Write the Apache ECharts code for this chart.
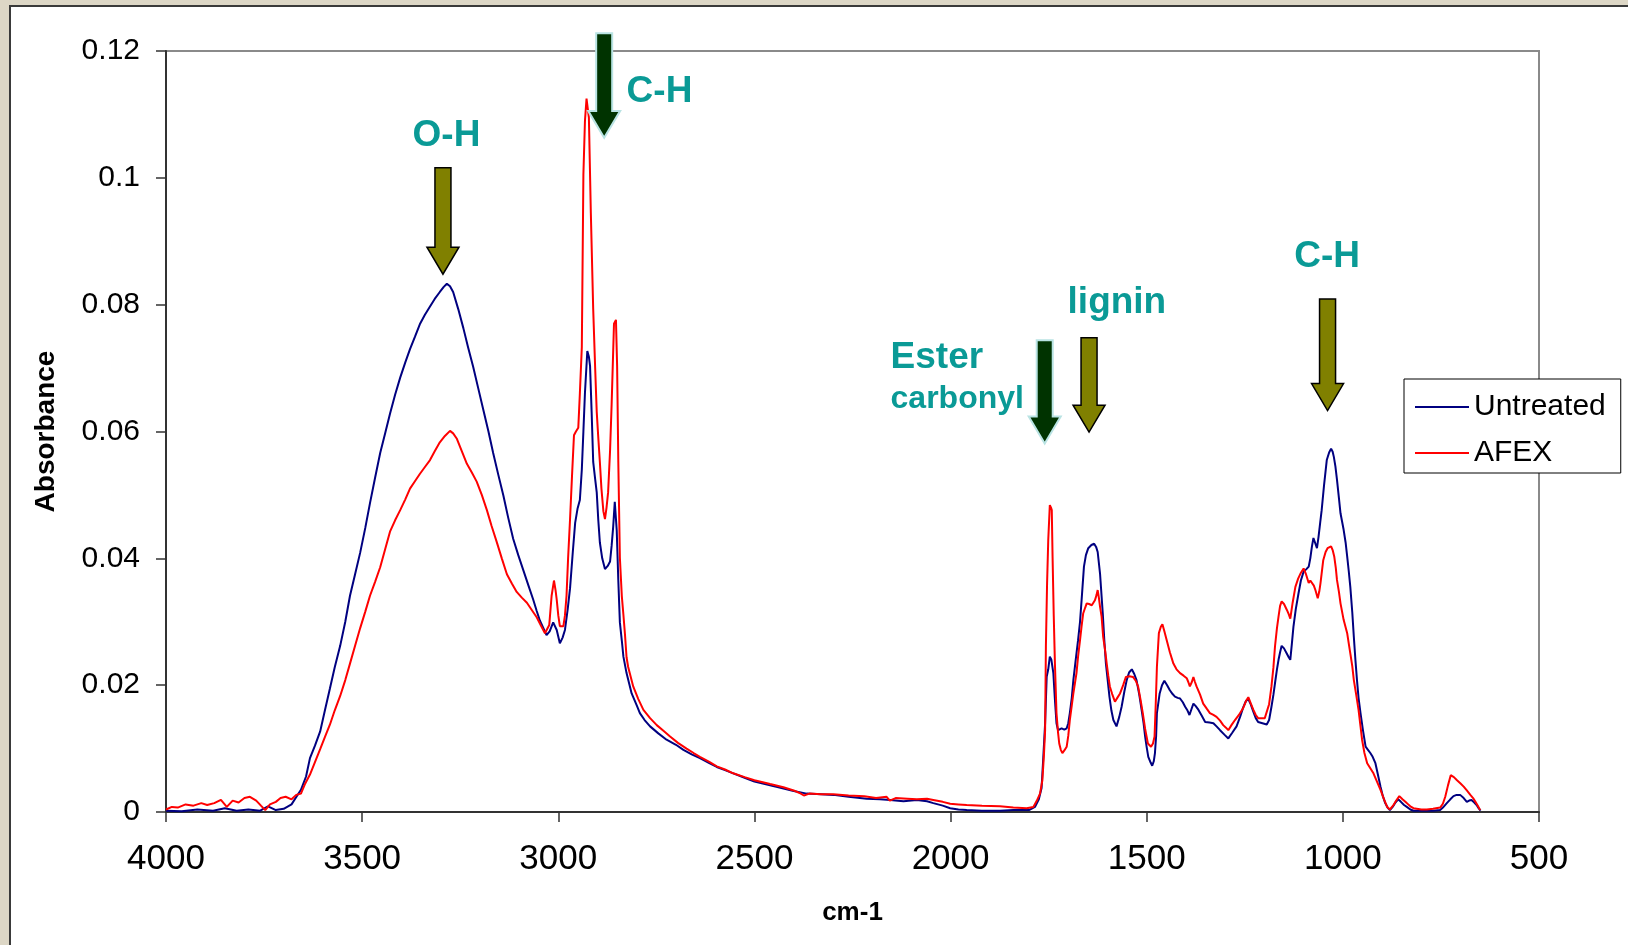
<!DOCTYPE html>
<html>
<head>
<meta charset="utf-8">
<title>FTIR absorbance</title>
<script src="https://cdn.jsdelivr.net/npm/echarts@6/dist/echarts.min.js"></script>
<style>
  html, body { margin: 0; padding: 0; overflow: hidden; background: #ddd7c6; }
  .frame { position: absolute; left: 9px; top: 5px; width: 1619px; height: 940px; background: #fff;
           border-left: 2px solid #3a3a3a; border-top: 2px solid #3a3a3a; box-sizing: border-box; }
  #chart { position: absolute; left: 0; top: 0; width: 1628px; height: 945px; }
</style>
</head>
<body>
<div class="frame"></div>
<div id="chart"></div>
<script>
// axis ranges (wavenumber runs high -> low)
const xMin = 500, xMax = 4000, xStep = 500;
const yMin = 0, yMax = 0.12, yStep = 0.02;

const seriesNames = ["Untreated", "AFEX"];

// [wavenumber, absorbance]
const untreated = [
  [4000,0.0002],[3960,0.0001],[3920,0.0004],[3880,0.0002],[3850,0.0006],[3820,0.0002],[3790,0.0004],
  [3760,0.0002],[3740,0.0009],[3720,0.0003],[3700,0.0005],[3680,0.0012],[3656,0.0035],[3643,0.0056],
  [3633,0.0085],[3620,0.0105],[3607,0.0127],[3595,0.016],[3582,0.0195],[3570,0.0228],[3556,0.0262],
  [3543,0.03],[3531,0.0341],[3518,0.0375],[3505,0.0409],[3492,0.0448],[3480,0.0487],[3467,0.0527],
  [3454,0.0566],[3441,0.0598],[3429,0.0628],[3416,0.0658],[3403,0.0685],[3390,0.0709],[3378,0.073],
  [3365,0.075],[3353,0.0769],[3340,0.0784],[3327,0.0797],[3315,0.0809],[3302,0.082],[3292,0.0828],
  [3284,0.0833],[3276,0.0829],[3268,0.082],[3255,0.0793],[3242,0.0763],[3230,0.0733],[3217,0.0702],
  [3204,0.0668],[3191,0.0634],[3178,0.06],[3166,0.0566],[3153,0.0532],[3140,0.0499],[3128,0.0465],
  [3115,0.0431],[3102,0.0405],[3089,0.0381],[3076,0.0357],[3064,0.0335],[3055,0.0317],[3047,0.0302],
  [3038,0.029],[3030,0.0279],[3022,0.0285],[3013,0.0299],[3004,0.0287],[2996,0.0266],[2989,0.0275],
  [2983,0.0287],[2976,0.032],[2970,0.0353],[2963,0.041],[2957,0.0456],[2951,0.0478],[2945,0.0492],
  [2940,0.054],[2936,0.06],[2932,0.0661],[2926,0.0727],[2922,0.0718],[2919,0.0703],[2915,0.0631],
  [2911,0.0552],[2906,0.0525],[2902,0.0504],[2898,0.046],[2894,0.0425],[2888,0.04],[2881,0.0383],
  [2874,0.0388],[2868,0.0395],[2864,0.042],[2860,0.045],[2856,0.0489],[2851,0.0444],[2847,0.0365],
  [2843,0.0299],[2838,0.027],[2834,0.0245],[2826,0.0219],[2813,0.0187],[2800,0.0168],[2792,0.0156],
  [2780,0.0145],[2766,0.0135],[2745,0.0124],[2724,0.0114],[2700,0.0106],[2681,0.0098],[2660,0.0091],
  [2639,0.0085],[2615,0.0077],[2596,0.0071],[2575,0.0066],[2554,0.0061],[2525,0.0054],[2500,0.0048],
  [2460,0.0042],[2426,0.0037],[2400,0.0033],[2367,0.0029],[2330,0.0028],[2299,0.0027],[2260,0.0024],
  [2214,0.0021],[2180,0.002],[2154,0.0019],[2120,0.0017],[2086,0.0019],[2060,0.0017],[2044,0.0014],
  [2020,0.001],[2001,0.0006],[1980,0.0004],[1959,0.0003],[1920,0.0002],[1874,0.0002],[1840,0.0003],
  [1800,0.0003],[1785,0.0008],[1775,0.002],[1768,0.0038],[1764,0.0082],[1759,0.014],[1755,0.0213],
  [1751,0.0225],[1747,0.0245],[1743,0.024],[1738,0.0219],[1734,0.0177],[1730,0.014],[1726,0.0129],
  [1721,0.0132],[1717,0.0132],[1710,0.013],[1704,0.0132],[1700,0.014],[1696,0.0156],[1691,0.018],
  [1687,0.0208],[1681,0.024],[1675,0.0271],[1670,0.03],[1666,0.0334],[1660,0.0387],[1655,0.0405],
  [1649,0.0416],[1641,0.0421],[1634,0.0423],[1629,0.0418],[1625,0.041],[1619,0.0376],[1612,0.0313],
  [1608,0.027],[1604,0.0234],[1599,0.0205],[1595,0.0182],[1590,0.016],[1585,0.0145],[1577,0.0135],
  [1570,0.015],[1564,0.0166],[1557,0.019],[1551,0.0208],[1545,0.022],[1538,0.0225],[1532,0.0218],
  [1526,0.0208],[1519,0.0185],[1513,0.0161],[1508,0.014],[1504,0.0119],[1500,0.0102],[1496,0.0087],
  [1490,0.0078],[1486,0.0073],[1482,0.008],[1479,0.0093],[1476,0.012],[1474,0.0156],[1467,0.0187],
  [1461,0.02],[1455,0.0207],[1448,0.02],[1441,0.0192],[1434,0.0186],[1428,0.0182],[1421,0.018],
  [1415,0.0179],[1408,0.0173],[1402,0.0166],[1396,0.016],[1391,0.0153],[1386,0.0162],[1381,0.0171],
  [1375,0.0167],[1368,0.0161],[1360,0.0152],[1351,0.0142],[1340,0.0141],[1330,0.014],[1322,0.0135],
  [1313,0.0129],[1302,0.0122],[1292,0.0116],[1282,0.0125],[1271,0.0135],[1262,0.015],[1254,0.0165],
  [1247,0.0175],[1241,0.0178],[1235,0.017],[1228,0.0158],[1222,0.0148],[1216,0.0142],[1205,0.014],
  [1194,0.0138],[1188,0.0145],[1182,0.0166],[1177,0.0185],[1173,0.0203],[1168,0.0225],[1164,0.024],
  [1160,0.0252],[1156,0.0262],[1150,0.0258],[1143,0.025],[1138,0.0244],[1134,0.024],[1130,0.0265],
  [1126,0.0292],[1120,0.032],[1113,0.0345],[1107,0.0365],[1100,0.0379],[1093,0.0383],[1087,0.0387],
  [1083,0.04],[1079,0.0418],[1075,0.0432],[1071,0.0425],[1066,0.0416],[1062,0.0434],[1058,0.0455],
  [1054,0.0476],[1048,0.0515],[1041,0.0555],[1035,0.0567],[1030,0.0573],[1026,0.0568],[1023,0.056],
  [1019,0.0545],[1015,0.0524],[1010,0.0495],[1006,0.0471],[1002,0.0458],[998,0.0445],[993,0.0425],
  [989,0.0403],[985,0.038],[981,0.0355],[976,0.0315],[972,0.0276],[968,0.024],[964,0.0208],
  [960,0.018],[955,0.0156],[949,0.013],[942,0.0103],[936,0.0098],[930,0.0093],[924,0.0087],
  [917,0.0077],[911,0.006],[904,0.004],[898,0.0025],[892,0.0014],[886,0.0007],[880,0.0003],
  [873,0.0008],[866,0.0015],[859,0.002],[852,0.0016],[844,0.0011],[837,0.0008],[828,0.0004],
  [820,0.0002],[800,0.0002],[786,0.0002],[770,0.0002],[752,0.0003],[745,0.0007],[740,0.001],
  [735,0.0014],[726,0.002],[718,0.0025],[710,0.0027],[701,0.0027],[692,0.0022],[684,0.0016],
  [678,0.0018],[672,0.0019],[665,0.0015],[659,0.0011],[654,0.0006],[649,0.0002]
];

const afex = [
  [4000,0.0004],[3985,0.0008],[3970,0.0007],[3950,0.0012],[3930,0.001],[3910,0.0014],[3895,0.0011],
  [3877,0.0014],[3860,0.0019],[3845,0.0008],[3830,0.0018],[3815,0.0015],[3800,0.0022],[3786,0.0024],
  [3770,0.0018],[3758,0.001],[3747,0.0003],[3735,0.0012],[3720,0.0016],[3708,0.0022],[3695,0.0024],
  [3680,0.002],[3668,0.0027],[3656,0.0029],[3645,0.0045],[3633,0.0059],[3620,0.0079],[3607,0.0099],
  [3595,0.0118],[3582,0.0138],[3570,0.016],[3556,0.0183],[3543,0.0208],[3531,0.0234],[3518,0.0262],
  [3505,0.029],[3492,0.0316],[3480,0.0341],[3467,0.0363],[3454,0.0386],[3441,0.0415],[3429,0.0442],
  [3416,0.046],[3403,0.0476],[3390,0.0493],[3378,0.051],[3365,0.0522],[3353,0.0533],[3340,0.0544],
  [3327,0.0555],[3315,0.0569],[3302,0.0583],[3289,0.0593],[3276,0.0601],[3268,0.0597],[3259,0.0589],
  [3246,0.0569],[3233,0.0549],[3220,0.0535],[3208,0.0521],[3195,0.05],[3182,0.0476],[3170,0.0451],
  [3157,0.0426],[3144,0.04],[3131,0.0375],[3118,0.036],[3106,0.0347],[3093,0.0338],[3080,0.033],
  [3068,0.0319],[3055,0.0307],[3045,0.0295],[3034,0.0282],[3030,0.028],[3023,0.0295],[3017,0.0341],
  [3011,0.0365],[3007,0.035],[3004,0.0335],[3000,0.031],[2996,0.0293],[2987,0.0293],[2983,0.031],
  [2979,0.0341],[2975,0.04],[2970,0.0462],[2965,0.053],[2960,0.0594],[2955,0.06],[2949,0.0606],
  [2945,0.066],[2940,0.0733],[2936,0.1005],[2932,0.109],[2928,0.1125],[2925,0.111],[2922,0.1095],
  [2917,0.0944],[2911,0.0793],[2906,0.07],[2902,0.0631],[2898,0.059],[2894,0.0552],[2890,0.051],
  [2885,0.0474],[2881,0.0462],[2877,0.048],[2873,0.0504],[2868,0.057],[2864,0.0643],[2858,0.077],
  [2853,0.0776],[2850,0.0703],[2847,0.0552],[2843,0.0401],[2838,0.034],[2834,0.0311],[2830,0.028],
  [2826,0.0244],[2822,0.0229],[2809,0.0198],[2796,0.0178],[2783,0.0161],[2766,0.0148],[2749,0.0137],
  [2732,0.0128],[2715,0.0119],[2695,0.0109],[2673,0.01],[2655,0.0093],[2639,0.0087],[2615,0.0079],
  [2596,0.0072],[2575,0.0067],[2554,0.0061],[2525,0.0055],[2500,0.005],[2460,0.0044],[2426,0.0039],
  [2400,0.0034],[2385,0.003],[2374,0.0026],[2360,0.0029],[2330,0.0028],[2299,0.0028],[2260,0.0026],
  [2220,0.0025],[2190,0.0022],[2163,0.0024],[2155,0.0018],[2140,0.0022],[2110,0.0021],[2086,0.002],
  [2060,0.0021],[2044,0.0019],[2020,0.0016],[2001,0.0013],[1980,0.0012],[1959,0.0011],[1920,0.001],
  [1874,0.0009],[1840,0.0007],[1806,0.0006],[1789,0.0008],[1780,0.0018],[1772,0.0029],[1766,0.005],
  [1762,0.009],[1759,0.0129],[1757,0.0261],[1754,0.036],[1751,0.0429],[1747,0.0484],[1744,0.048],
  [1742,0.0476],[1740,0.0403],[1737,0.031],[1734,0.0234],[1730,0.0156],[1726,0.0125],[1723,0.0108],
  [1719,0.0098],[1715,0.0093],[1710,0.0097],[1704,0.0103],[1700,0.012],[1696,0.0145],[1691,0.0168],
  [1687,0.0187],[1683,0.0203],[1679,0.0219],[1675,0.0245],[1670,0.0271],[1666,0.0293],[1662,0.0313],
  [1657,0.0322],[1653,0.0329],[1647,0.0328],[1640,0.0326],[1636,0.033],[1632,0.0334],[1628,0.0342],
  [1625,0.035],[1622,0.0338],[1619,0.0324],[1615,0.0308],[1611,0.0276],[1606,0.0255],[1602,0.0234],
  [1598,0.0215],[1594,0.0198],[1588,0.0186],[1581,0.0174],[1575,0.018],[1568,0.0187],[1560,0.02],
  [1553,0.0213],[1544,0.0214],[1535,0.0213],[1528,0.0207],[1522,0.0198],[1516,0.0178],[1510,0.0156],
  [1504,0.0131],[1497,0.0108],[1489,0.0103],[1484,0.0108],[1480,0.0119],[1477,0.017],[1474,0.0229],
  [1469,0.0282],[1464,0.0292],[1460,0.0296],[1455,0.0285],[1449,0.0271],[1441,0.0252],[1432,0.0234],
  [1424,0.0225],[1415,0.0219],[1406,0.0215],[1398,0.0211],[1394,0.0205],[1390,0.0198],[1385,0.0205],
  [1381,0.0213],[1377,0.0205],[1373,0.0198],[1364,0.0185],[1356,0.0171],[1347,0.0163],[1339,0.0156],
  [1330,0.0153],[1322,0.015],[1313,0.0144],[1305,0.0137],[1298,0.0133],[1292,0.0129],[1284,0.0137],
  [1275,0.0145],[1265,0.0153],[1254,0.0164],[1247,0.0175],[1241,0.0181],[1234,0.017],[1228,0.0161],
  [1222,0.0153],[1216,0.0148],[1211,0.0145],[1199,0.0148],[1194,0.015],[1188,0.017],[1182,0.0198],
  [1177,0.0228],[1173,0.0261],[1168,0.029],[1164,0.0308],[1160,0.0325],[1156,0.0332],[1150,0.0328],
  [1143,0.0319],[1138,0.0312],[1134,0.0305],[1128,0.033],[1121,0.0355],[1114,0.0368],[1108,0.0376],
  [1100,0.0384],[1094,0.0375],[1087,0.0361],[1083,0.0365],[1079,0.0363],[1074,0.0357],[1070,0.035],
  [1064,0.0337],[1060,0.0348],[1057,0.0361],[1050,0.0397],[1044,0.041],[1039,0.0416],[1030,0.0419],
  [1026,0.0413],[1022,0.0403],[1018,0.0385],[1015,0.0366],[1010,0.0347],[1006,0.0329],[998,0.0303],
  [989,0.0282],[985,0.0266],[981,0.025],[976,0.023],[972,0.0208],[966,0.0185],[960,0.0161],
  [955,0.0135],[951,0.0114],[945,0.0093],[938,0.0077],[930,0.0069],[922,0.0061],[913,0.0048],
  [904,0.0035],[895,0.002],[887,0.0008],[880,0.0004],[872,0.001],[864,0.0018],[856,0.0025],
  [848,0.002],[837,0.0014],[828,0.0009],[820,0.0006],[800,0.0004],[786,0.0004],[770,0.0005],
  [752,0.0007],[745,0.0013],[739,0.0024],[732,0.0042],[725,0.0058],[717,0.0055],[709,0.005],
  [700,0.0045],[692,0.004],[684,0.0034],[675,0.0027],[668,0.0022],[662,0.0016],[656,0.001],[650,0.0003]
];

// band arrows: [wavenumber, top value, tip value, style]
const arrows = [
  [3294, 0.1016, 0.0848, "olive"],
  [2883, 0.1228, 0.1063, "dark"],
  [1760, 0.0744, 0.0581, "dark"],
  [1647, 0.0748, 0.0599, "olive"],
  [1039, 0.0809, 0.0633, "olive"]
];

// band labels: [wavenumber, value, text, font size, align]
const bandLabels = [
  [3285, 0.1066, "O-H", 37, "center"],
  [2742, 0.1136, "C-H", 37, "center"],
  [2153, 0.0716, "Ester", 37, "left"],
  [2153, 0.0651, "carbonyl", 32, "left"],
  [1576, 0.0803, "lignin", 37, "center"],
  [1040, 0.0875, "C-H", 37, "center"]
];

const arrowStyle = {
  olive: { fill: "#808000", stroke: "#000000", lineWidth: 1.5 },
  dark: { fill: "#003300", stroke: "#b9e3e3", lineWidth: 2 }
};

const chart = echarts.init(document.getElementById("chart"));

const option = {
  animation: false,
  textStyle: { fontFamily: "Liberation Sans, Arial, sans-serif", color: "#000" },
  grid: {
    left: 166, right: 89, top: 51, bottom: 133,
    show: true, borderColor: "#8a8a8a", borderWidth: 2,
    outerBoundsMode: "none"
  },
  legend: {
    data: seriesNames,
    orient: "vertical",
    left: 1404, top: 379,
    padding: [13, 15, 5, 11],
    icon: "path://M0,0H54V2H0Z",
    itemWidth: 54, itemHeight: 30, itemGap: 16,
    backgroundColor: "#fff", borderColor: "#000", borderWidth: 1,
    textStyle: { fontSize: 30, lineHeight: 30, color: "#000", fontFamily: "Liberation Sans, Arial, sans-serif" }
  },
  xAxis: {
    type: "value",
    inverse: true,
    min: xMin, max: xMax, interval: xStep,
    name: "cm-1",
    nameLocation: "middle",
    nameGap: 88,
    nameTextStyle: { fontSize: 26, fontWeight: "bold", color: "#000" },
    axisLine: { lineStyle: { color: "#333", width: 2 } },
    axisTick: { length: 10, lineStyle: { color: "#333", width: 1.5 } },
    axisLabel: { fontSize: 35, margin: 30, color: "#000", formatter: v => String(v) },
    splitLine: { show: false }
  },
  yAxis: {
    type: "value",
    min: yMin, max: yMax, interval: yStep,
    name: "Absorbance",
    nameLocation: "middle",
    nameRotate: 90,
    nameGap: 106,
    nameTextStyle: { fontSize: 28, fontWeight: "bold", color: "#000" },
    axisLine: { show: true, lineStyle: { color: "#333", width: 2 } },
    axisTick: { show: true, length: 10, lineStyle: { color: "#333", width: 1.5 } },
    axisLabel: { fontSize: 30, margin: 26, color: "#000" },
    splitLine: { show: false }
  },
  series: [
    {
      name: seriesNames[0],
      type: "line",
      data: untreated,
      symbol: "none",
      lineStyle: { color: "#000080", width: 2 },
      itemStyle: { color: "#000080" },
      z: 3
    },
    {
      name: seriesNames[1],
      type: "line",
      data: afex,
      symbol: "none",
      lineStyle: { color: "#ff0000", width: 2 },
      itemStyle: { color: "#ff0000" },
      z: 4
    },
    {
      name: "arrows",
      type: "custom",
      clip: false,
      z: 5,
      data: arrows.map(a => [a[0], a[1], a[2]]),
      renderItem: function (params, api) {
        const top = api.coord([api.value(0), api.value(1)]);
        const tip = api.coord([api.value(0), api.value(2)]);
        const st = arrowStyle[arrows[params.dataIndex][3]];
        const x = tip[0], hw = 8, hh = 16, hl = 27;
        const neck = tip[1] - hl;
        return {
          type: "polygon",
          shape: { points: [[x - hw, top[1]], [x + hw, top[1]], [x + hw, neck], [x + hh, neck],
                            [x, tip[1]], [x - hh, neck], [x - hw, neck]] },
          style: { fill: st.fill, stroke: st.stroke, lineWidth: st.lineWidth }
        };
      }
    },
    {
      name: "bands",
      type: "custom",
      clip: false,
      z: 5,
      data: bandLabels.map(b => [b[0], b[1]]),
      renderItem: function (params, api) {
        const p = api.coord([api.value(0), api.value(1)]);
        const b = bandLabels[params.dataIndex];
        return {
          type: "text",
          x: p[0], y: p[1],
          style: {
            text: b[2], fill: "#0a9a96",
            fontSize: b[3], fontWeight: "bold",
            fontFamily: "Liberation Sans, Arial, sans-serif",
            align: b[4], verticalAlign: "middle"
          }
        };
      }
    }
  ]
};

chart.setOption(option);
</script>
</body>
</html>
